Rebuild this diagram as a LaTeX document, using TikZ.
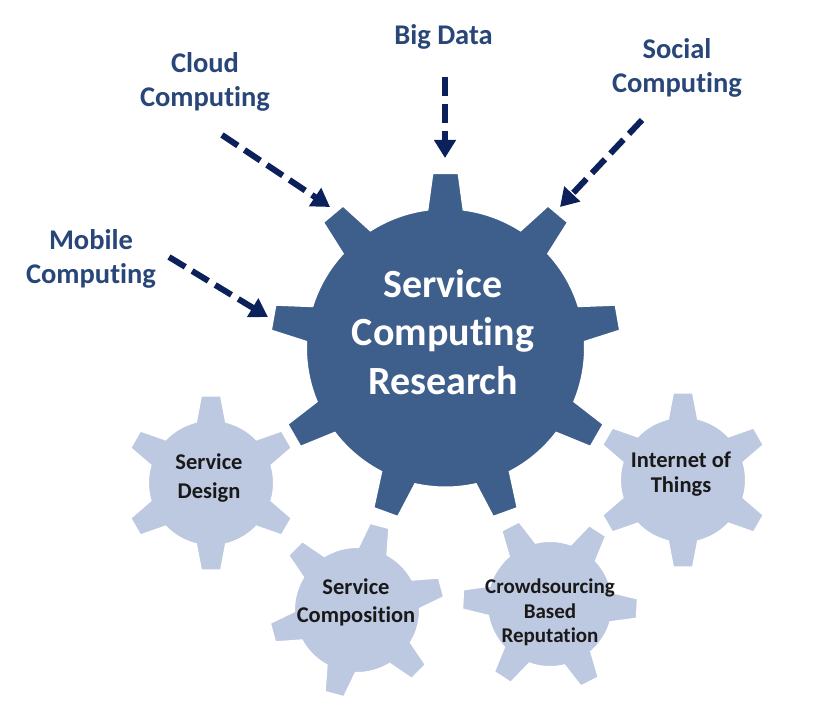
\documentclass[tikz,border=0pt]{standalone}
\usepackage{fontspec}
\setmainfont{Carlito}[Ligatures={NoCommon}]
\usetikzlibrary{arrows.meta}
\definecolor{maingear}{RGB}{62,95,139}
\definecolor{lightgear}{RGB}{189,200,225}
\definecolor{arrowc}{RGB}{12,32,92}
\definecolor{labelc}{RGB}{40,70,120}
\definecolor{darktext}{RGB}{25,25,25}
% #1 style, #2 cx, #3 cy, #4 rin, #5 rout, #6 teeth, #7 offset, #8 half width at rin, #9 half width at rout
\newcommand\drawgear[9]{%
  \pgfmathsetmacro\gdi{asin(#8/#4)}%
  \pgfmathsetmacro\gdo{asin(#9/#5)}%
  \pgfmathsetmacro\gstep{360/#6}%
  \begin{scope}[shift={(#2,#3)}]
  \path[#1] ({#7-\gdi}:#4pt)
    \foreach \k in {1,...,#6} {
      -- ({#7+\k*\gstep-\gstep-\gdo}:#5pt)
      -- ({#7+\k*\gstep-\gstep+\gdo}:#5pt)
      -- ({#7+\k*\gstep-\gstep+\gdi}:#4pt)
      arc[start angle={#7+\k*\gstep-\gstep+\gdi}, end angle={#7+\k*\gstep-\gdi}, radius=#4pt]
    } -- cycle;
  \end{scope}
}
\begin{document}
\begin{tikzpicture}[x=1pt,y=1pt,
  labeltext/.style={font=\fontsize{28.5}{34}\selectfont\bfseries, text=labelc, align=center, inner sep=0pt},
  geartext/.style={font=\fontsize{22.5}{28.5}\selectfont\bfseries, text=darktext, align=center, inner sep=0pt},
  maintext/.style={font=\fontsize{40}{48.5}\selectfont\bfseries, text=white, align=center, inner sep=0pt},
  flow/.style={draw=arrowc, line width=6pt, dash pattern=on 19pt off 8pt, -{Triangle[width=21pt,length=18pt]}},
  smallgear/.style={fill=lightgear, draw=white, line width=2pt},
  biggear/.style={fill=maingear, draw=white, line width=3pt}]
\fill[white] (0,0) rectangle (814,723);
\useasboundingbox (0,0) rectangle (814,723);
% small gears
\drawgear{smallgear}{211}{240}{63}{88}{6}{90}{15}{10}
\drawgear{smallgear}{357}{113}{63}{88}{6}{15}{15}{10}
\drawgear{smallgear}{550}{119}{63}{88}{6}{-3}{15}{10}
\drawgear{smallgear}{683}{243}{63}{88}{6}{90}{15}{10}
% main gear
\drawgear{biggear}{445.5}{375}{140}{176}{9}{90}{18.5}{13.5}
% texts
\node[maintext] (main) at (443,391) {Service\\Computing\\Research};
\node[geartext] (design) at (209,245) {Service\\Design};
\node[geartext] (compo) at (356,120.5) {Service\\Composition};
\node[geartext, font=\fontsize{21}{24.5}\selectfont\bfseries] (crowd) at (550,110.5) {Crowdsourcing\\Based\\Reputation};
\node[geartext, font=\fontsize{22.5}{25.5}\selectfont\bfseries] (iot) at (681,249) {Internet of\\Things};
\node[labeltext, anchor=base] (bigdata) at (443.5,678) {Big Data};
\node[labeltext] (cloud) at (205,641.5) {Cloud\\Computing};
\node[labeltext] (social) at (677,655.5) {Social\\Computing};
\node[labeltext] (mobile) at (91,464.5) {Mobile\\Computing};
% arrows
\coordinate (bigS) at (445,646);
\coordinate (bigE) at (445,565);
\coordinate (cloudS) at (222,588);
\coordinate (cloudE) at (330,516);
\coordinate (socialS) at (642,603);
\coordinate (socialE) at (560,516);
\coordinate (mobileS) at (169,466);
\coordinate (mobileE) at (268,406);
\draw[flow] (bigS) -- (bigE);
\draw[flow] (cloudS) -- (cloudE);
\draw[flow] (socialS) -- (socialE);
\draw[flow] (mobileS) -- (mobileE);
\end{tikzpicture}
\end{document}
